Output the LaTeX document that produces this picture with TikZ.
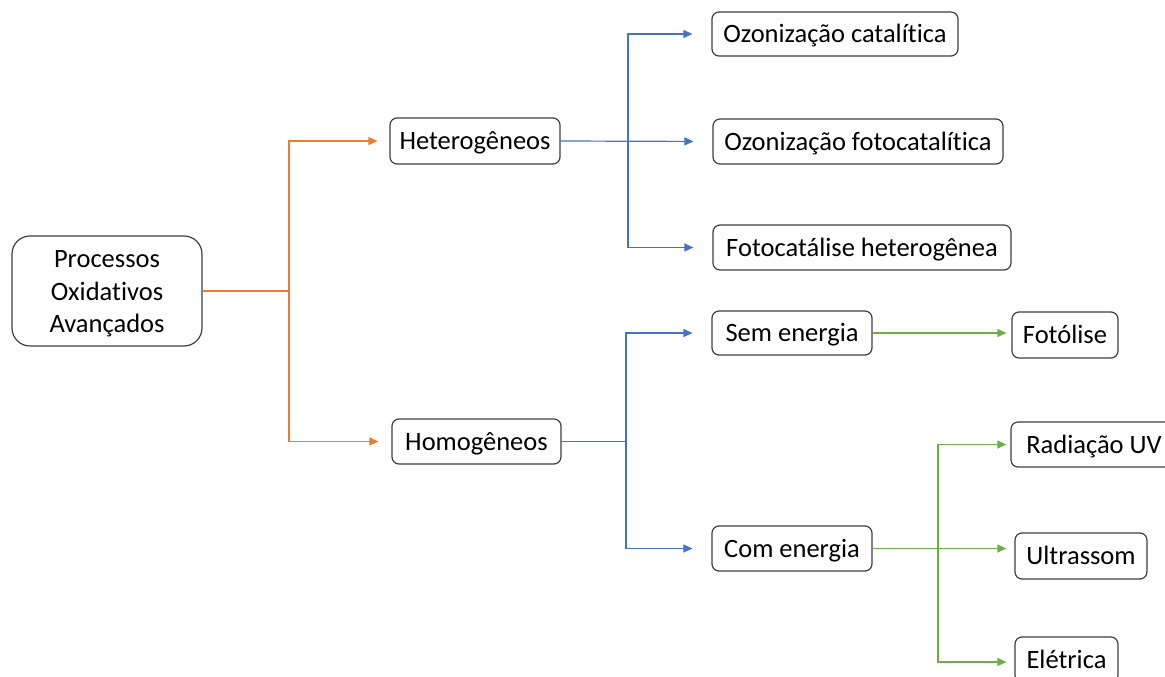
\documentclass[tikz,border=0pt]{standalone}
\usepackage{fontspec}
\setmainfont{Carlito}[Ligatures={NoCommon,NoContextual}]
\usetikzlibrary{arrows.meta}
\definecolor{ora}{HTML}{ED7D31}
\definecolor{blu}{HTML}{4472C4}
\definecolor{gre}{HTML}{70AD47}
\definecolor{bord}{HTML}{404040}
\begin{document}
\begin{tikzpicture}[x=1pt,y=-1pt,
  box/.style={draw=bord,line width=1.2pt,rounded corners=7pt,fill=white,inner sep=0pt,align=center,font=\fontsize{26.5}{32.5}\selectfont},
  one/.style={box,text height=22pt,text depth=5pt},
  conn/.style={line width=1.2pt},
  arr/.style={conn,-{Triangle[length=9pt,width=8pt]}}]
\useasboundingbox (0,0) rectangle (1165,677);
\fill[white] (0,0) rectangle (1165,677);
% nodes
\node[box,rounded corners=18pt,minimum width=190pt,minimum height=110pt] (poa) at (107,291) {\raisebox{-2.5pt}[\height][\depth]{\begin{tabular}{@{}c@{}}Processos\\Oxidativos\\Avançados\end{tabular}}};
\node[one,minimum width=170pt,minimum height=46pt] (het) at (475,141) {Heterogêneos};
\node[one,minimum width=169pt,minimum height=45pt] (hom) at (476.5,441.5) {Homogêneos};
\node[one,minimum width=246pt,minimum height=44pt] (oc) at (835,34) {Ozonização catalítica};
\node[one,minimum width=290pt,minimum height=45pt] (ofc) at (858,141.5) {Ozonização fotocatalítica};
\node[one,minimum width=298pt,minimum height=45pt] (fh) at (862,247.5) {Fotocatálise heterogênea};
\node[one,minimum width=160pt,minimum height=44pt] (sem) at (792,333) {Sem energia};
\node[one,minimum width=160pt,minimum height=45pt] (com) at (792,548.5) {Com energia};
\node[one,minimum width=106pt,minimum height=46pt] (fot) at (1065,335) {Fotólise};
\node[one,minimum width=166pt,minimum height=45pt] (ruv) at (1094,444.5) {Radiação UV};
\node[one,minimum width=132pt,minimum height=46pt] (ult) at (1081,556) {Ultrassom};
\node[one,minimum width=103pt,minimum height=45pt] (ele) at (1066.5,659.5) {Elétrica};
% junctions
\coordinate (oj) at (289,291);
\coordinate (hj) at (628,141);
\coordinate (mj) at (626,441.5);
\coordinate (gj) at (938,548.5);
% orange
\draw[conn,ora] (poa.east) -- (oj);
\draw[arr,ora,shorten >=12pt] (oj) |- (het.west);
\draw[arr,ora,shorten >=13pt] (oj) |- (hom.west);
% blue heterogeneous
\draw[arr,blu,shorten >=19pt] (het.east) -- (ofc.west);
\draw[arr,blu,shorten >=19pt] (hj) |- (oc.west);
\draw[arr,blu,shorten >=19pt] (hj) |- (fh.west);
% blue homogeneous
\draw[conn,blu] (hom.east) -- (mj);
\draw[arr,blu,shorten >=19pt] (mj) |- (sem.west);
\draw[arr,blu,shorten >=19pt] (mj) |- (com.west);
% green
\draw[arr,gre,shorten >=5pt] (sem.east) -- (sem.east -| fot.west);
\draw[arr,gre,shorten >=8pt] (com.east) -- (com.east -| ult.west);
\draw[arr,gre,shorten >=4pt] (gj) |- (ruv.west);
\draw[arr,gre,shorten >=8pt] (gj) |- ([yshift=-2.5pt]ele.west);
\end{tikzpicture}
\end{document}
